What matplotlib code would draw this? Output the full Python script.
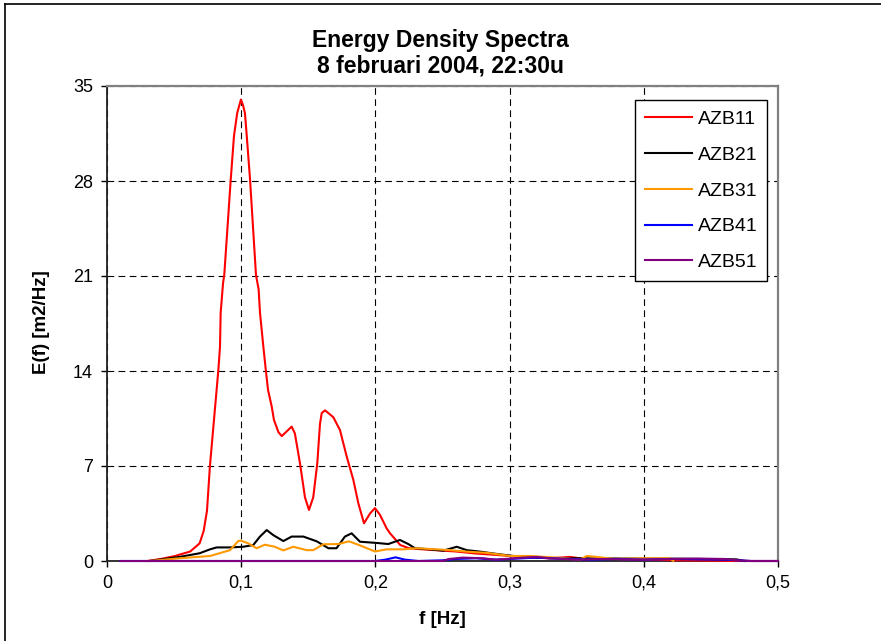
import numpy as np
import matplotlib
matplotlib.use("Agg")
import matplotlib.pyplot as plt
from matplotlib.lines import Line2D
from matplotlib.ticker import FuncFormatter

plt.rcParams['font.family'] = ['Liberation Sans', 'DejaVu Sans']

# AZB11 (red)
f11 = [0.03, 0.04, 0.05, 0.062, 0.069, 0.072, 0.0745, 0.0755, 0.0767, 0.083, 0.0842,
       0.0847, 0.0865, 0.0874, 0.0922, 0.0946, 0.097, 0.0998, 0.1013, 0.1028, 0.104,
       0.1066, 0.111, 0.113, 0.114, 0.1165, 0.1183, 0.120, 0.1227, 0.1244, 0.1277,
       0.1302, 0.1376, 0.140, 0.1438, 0.1475, 0.1505, 0.1537, 0.1567, 0.1587, 0.160,
       0.1625, 0.1686, 0.1736, 0.1786, 0.1835, 0.1873, 0.1915, 0.196, 0.1997, 0.2034,
       0.2084, 0.2109, 0.2185, 0.225, 0.235, 0.26, 0.275, 0.29, 0.30, 0.315, 0.33,
       0.345, 0.3525, 0.36, 0.38, 0.40, 0.43, 0.467, 0.5]
e11 = [0.0, 0.15, 0.35, 0.7, 1.3, 2.2, 3.7, 5.2, 7.0, 14.1, 15.8,
       18.3, 20.5, 21.1, 28.1, 31.3, 33.0, 34.0, 33.6, 33.0, 31.5,
       28.1, 21.1, 20.0, 18.3, 15.8, 14.1, 12.6, 11.4, 10.4, 9.5,
       9.2, 9.9, 9.4, 7.2, 4.7, 3.76, 4.7, 7.2, 10.1, 10.9,
       11.1, 10.6, 9.65, 7.7, 6.0, 4.25, 2.78, 3.5, 3.9, 3.4,
       2.4, 2.04, 1.18, 0.94, 0.86, 0.7, 0.55, 0.45, 0.37, 0.27, 0.2,
       0.3, 0.2, 0.15, 0.15, 0.1, 0.05, 0.0, 0.0]

# AZB21 (black)
f21 = [0.032, 0.054, 0.069, 0.0768, 0.0817, 0.0917, 0.1016, 0.109, 0.114, 0.119,
       0.124, 0.1314, 0.1376, 0.1463, 0.1563, 0.165, 0.171, 0.1773, 0.1823, 0.1885,
       0.201, 0.2096, 0.2183, 0.2245, 0.2295, 0.2407, 0.2506, 0.2606, 0.268, 0.278,
       0.2904, 0.3028, 0.3152, 0.3326, 0.3525, 0.382, 0.4245, 0.469, 0.475]
e21 = [0.0, 0.3, 0.57, 0.86, 1.0, 1.0, 1.05, 1.18, 1.8, 2.28,
       1.9, 1.47, 1.8, 1.8, 1.45, 0.94, 0.94, 1.8, 2.04, 1.42,
       1.33, 1.25, 1.55, 1.25, 0.94, 0.86, 0.76, 1.05, 0.8, 0.69,
       0.52, 0.37, 0.27, 0.2, 0.2, 0.18, 0.17, 0.12, 0.0]

# AZB31 (orange)
f31 = [0.032, 0.054, 0.0768, 0.0917, 0.0978, 0.0998, 0.1053, 0.1115, 0.1177, 0.125,
       0.1314, 0.1388, 0.1488, 0.1537, 0.1612, 0.1724, 0.1803, 0.1885, 0.1997, 0.2084,
       0.2208, 0.2308, 0.2457, 0.2556, 0.268, 0.283, 0.3003, 0.3152, 0.335, 0.3525,
       0.3575, 0.365, 0.3773, 0.397, 0.4195, 0.422]
e31 = [0.0, 0.2, 0.37, 0.8, 1.47, 1.5, 1.3, 0.94, 1.2, 1.05,
       0.78, 1.05, 0.8, 0.8, 1.23, 1.25, 1.45, 1.15, 0.7, 0.86,
       0.86, 0.94, 0.86, 0.8, 0.69, 0.6, 0.37, 0.37, 0.25, 0.1,
       0.37, 0.3, 0.15, 0.2, 0.2, 0.0]

# AZB41 (blue)
f41 = [0.01, 0.2, 0.2075, 0.215, 0.222, 0.232, 0.25, 0.26, 0.275, 0.29, 0.30, 0.31,
       0.32, 0.33, 0.345, 0.36, 0.38, 0.40, 0.42, 0.44, 0.46, 0.47, 0.48, 0.5]
e41 = [0.0, 0.0, 0.1, 0.27, 0.1, 0.0, 0.05, 0.15, 0.2, 0.1, 0.15, 0.2,
       0.25, 0.2, 0.15, 0.1, 0.15, 0.1, 0.15, 0.12, 0.1, 0.05, 0.0, 0.0]

# AZB51 (purple)
f51 = [0.01, 0.25, 0.255, 0.265, 0.28, 0.29, 0.31, 0.32, 0.33, 0.35, 0.37, 0.40,
       0.42, 0.44, 0.46, 0.47, 0.48, 0.5]
e51 = [0.0, 0.0, 0.15, 0.25, 0.2, 0.1, 0.25, 0.3, 0.2, 0.1, 0.15, 0.1,
       0.15, 0.18, 0.15, 0.05, 0.0, 0.0]

series = [("AZB11", f11, e11, "#FF0000"),
          ("AZB21", f21, e21, "#000000"),
          ("AZB31", f31, e31, "#FF9900"),
          ("AZB41", f41, e41, "#0000FF"),
          ("AZB51", f51, e51, "#800080")]

fig = plt.figure(figsize=(8.81, 6.41), dpi=100)
ax = fig.add_axes([107/881, 1-561/641, (778-107)/881, (561-86)/641])

for name, f, e, c in series:
    ax.plot(f, e, color=c, lw=1.5, label=name, solid_joinstyle='round',
            clip_on=False, zorder=3)

ax.set_xlim(0, 0.5)
ax.set_ylim(0, 35)
ax.set_xticks(np.arange(0, 0.51, 0.1))
ax.set_yticks(np.arange(0, 36, 7))
ax.xaxis.set_major_formatter(FuncFormatter(lambda v, p: ('%g' % round(v, 2)).replace('.', ',')))
ax.tick_params(direction='out', length=4, width=1, labelsize=13, colors='black', pad=6)

ax.grid(True, color='black', linestyle=(0, (6, 4)), linewidth=0.8)
ax.set_axisbelow(True)
for s in ['left', 'bottom']:
    ax.spines[s].set_color('#222222')
    ax.spines[s].set_linewidth(1.3)
for s in ['top', 'right']:
    ax.spines[s].set_color('#808080')
    ax.spines[s].set_linewidth(1.6)

fig.text(0.5, 1-41/641, "Energy Density Spectra", ha='center', va='center',
         fontsize=16.5, fontweight='bold')
fig.text(0.5, 1-66/641, "8 februari 2004, 22:30u", ha='center', va='center',
         fontsize=16.5, fontweight='bold')
fig.text(442/881, 1-620/641, "f [Hz]", ha='center', va='center',
         fontsize=13.5, fontweight='bold')
fig.text(41/881, 1-322/641, "E(f) [m2/Hz]", ha='center', va='center',
         fontsize=13.5, fontweight='bold', rotation=90)

leg = ax.legend(loc='upper left', bbox_to_anchor=((635-107)/671, 1-(100-86)/475),
                fontsize=14, frameon=True, fancybox=False, shadow=False,
                borderaxespad=0, labelspacing=0.94, handlelength=2.4,
                handletextpad=0.3, borderpad=0.52)
leg.get_frame().set_edgecolor('black')
leg.get_frame().set_linewidth(1.0)
leg.get_frame().set_alpha(1)
leg.set_zorder(5)

# outer chart border (left and top)
fig.add_artist(Line2D([5/881, 5/881], [0, 1-4/641], color='black', lw=1.2))
fig.add_artist(Line2D([5/881, 1], [1-4/641, 1-4/641], color='black', lw=1.2))

fig.savefig("out.png", dpi=100)
